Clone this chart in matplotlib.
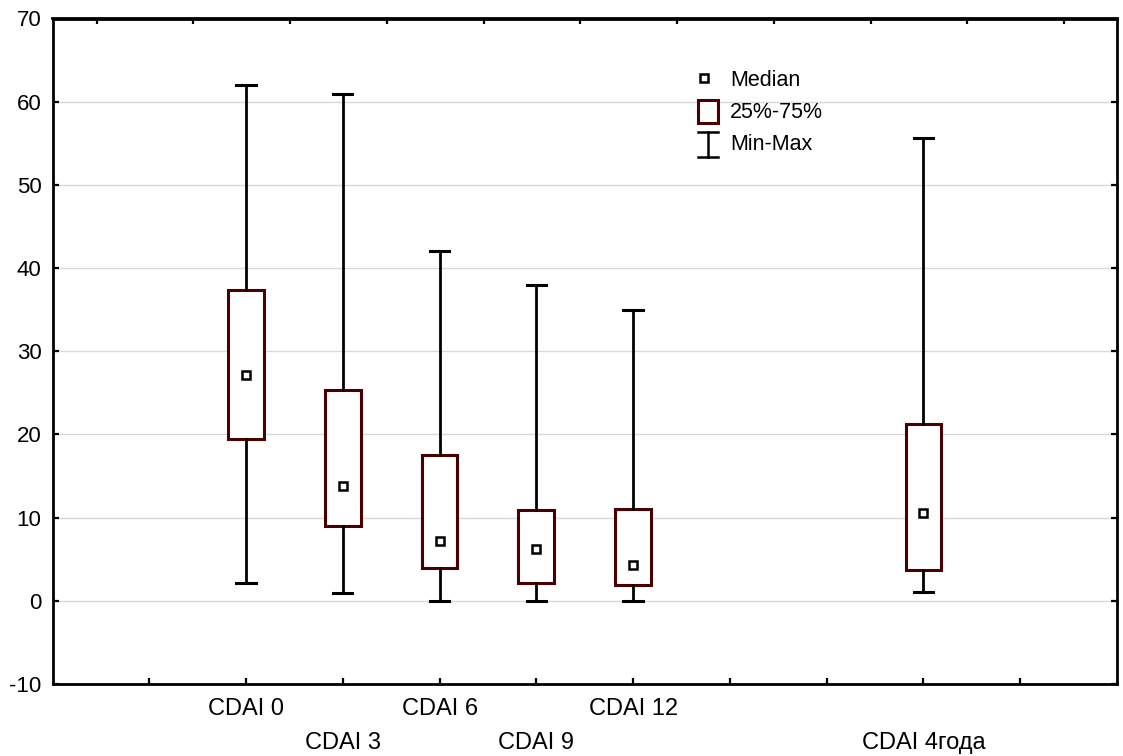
import numpy as np
import matplotlib
matplotlib.use('Agg')
import matplotlib.pyplot as plt
from matplotlib.patches import Rectangle
from matplotlib.lines import Line2D
import matplotlib.transforms as mtransforms

plt.rcParams['font.family'] = ['Liberation Sans', 'DejaVu Sans']
plt.rcParams['axes.unicode_minus'] = False

# CDAI по визитам
labels = ['CDAI 0', 'CDAI 3', 'CDAI 6', 'CDAI 9', 'CDAI 12', 'CDAI 4года']
pos = [2, 3, 4, 5, 6, 9]
mins = [2.1, 0.9, 0.0, 0.0, 0.0, 1.0]
q1 = [19.4, 9.0, 3.9, 2.2, 1.9, 3.7]
med = [27.2, 13.8, 7.2, 6.2, 4.3, 10.6]
q3 = [37.4, 25.4, 17.5, 10.9, 11.0, 21.2]
maxs = [62.0, 60.9, 42.0, 38.0, 35.0, 55.6]

W, H = 1123, 756
fig = plt.figure(figsize=(W / 100, H / 100), dpi=100)
L, R, T, B = 52.5, 1117, 18.5, 684
ax = fig.add_axes([L / W, 1 - B / H, (R - L) / W, (B - T) / H])

box_col = '#4a0000'
stats = [dict(whislo=a, q1=b, med=c, q3=d, whishi=e, fliers=[])
         for a, b, c, d, e in zip(mins, q1, med, q3, maxs)]
ax.bxp(stats, positions=pos, widths=0.37, capwidths=0.2, patch_artist=True,
       showfliers=False,
       boxprops=dict(facecolor='white', edgecolor=box_col, linewidth=2.2),
       whiskerprops=dict(color='black', linewidth=2),
       capprops=dict(color='black', linewidth=2.2),
       medianprops=dict(linewidth=0), zorder=3)
ax.plot(pos, med, ls='none', marker='s', ms=6, mfc='white', mec='black',
        mew=1.8, zorder=4)

ax.set_xlim(0, 11)
ax.set_ylim(-10, 70)
ax.set_yticks(np.arange(-10, 71, 10))
ax.set_xticks(np.arange(1, 11))
ax.set_xticklabels([])
ax.grid(axis='y', color='#d9d9d9', linewidth=1, zorder=0)
ax.set_axisbelow(True)
ax.tick_params(axis='both', direction='in', length=4, width=1.6, labelsize=16,
               right=True, pad=8)
for s in ax.spines.values():
    s.set_linewidth(2)

# верхняя ось со смещёнными штрихами
top = ax.secondary_xaxis('top')
top.set_xticks(np.arange(11) + 0.455)
top.set_xticklabels([])
top.tick_params(direction='in', length=4, width=1.6)
top.spines['top'].set_linewidth(2)

# подписи категорий в два ряда
trans = mtransforms.blended_transform_factory(ax.transData, ax.transAxes)
for i, (p, lab) in enumerate(zip(pos, labels)):
    off = -25 if i % 2 == 0 else -59
    ax.annotate(lab, xy=(p, 0), xycoords=trans, xytext=(0, off * 0.72),
                textcoords='offset points', ha='center', va='center',
                fontsize=17)

# легенда
def px(x, y):
    return ((x - L) / (R - L), (B - y) / (B - T))

mx, my = px(703.7, 78)
ax.add_line(Line2D([mx], [my], transform=ax.transAxes, ls='none', marker='s',
                   ms=5.5, mfc='white', mec='black', mew=1.8, clip_on=False))
bx0, by0 = px(698, 123)
bx1, by1 = px(718, 100)
ax.add_patch(Rectangle((bx0, by0), bx1 - bx0, by1 - by0, transform=ax.transAxes,
                       facecolor='white', edgecolor=box_col, linewidth=2.2,
                       clip_on=False, zorder=5))
ix0, iy0 = px(698, 157)
ix1, iy1 = px(718, 132)
ixc = (ix0 + ix1) / 2
for xs, ys in [([ixc, ixc], [iy0, iy1]), ([ix0, ix1], [iy0, iy0]), ([ix0, ix1], [iy1, iy1])]:
    ax.add_line(Line2D(xs, ys, transform=ax.transAxes, color='black', lw=1.8,
                       clip_on=False))
for name, yy in [('Median', 80), ('25%-75%', 113), ('Min-Max', 145)]:
    tx, ty = px(730, yy)
    ax.text(tx, ty, name, transform=ax.transAxes, ha='left', va='center',
            fontsize=15.5)

fig.savefig('out.png', dpi=100)
